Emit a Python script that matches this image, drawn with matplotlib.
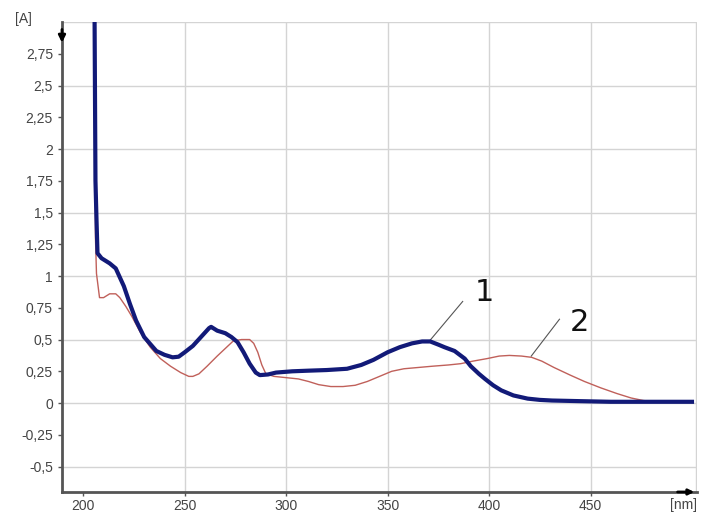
import numpy as np
import matplotlib.pyplot as plt
from matplotlib.ticker import FixedLocator

# Spectrum 1 (thick navy) - wavelength [nm], absorbance [A]
nm1 = [205.5, 206, 206.5, 207, 209, 213, 216, 218, 220, 223, 226, 230, 236, 240, 244, 247,
       250, 254, 258, 262, 263, 266, 270, 273, 276, 279, 282, 285, 287, 291, 295, 303, 311,
       320, 330, 337, 343, 350, 356, 362, 367, 371, 375, 378, 383, 388, 391, 395, 398, 402,
       406, 412, 419, 425, 431, 445, 460, 500]
a1 = [3.2, 1.75, 1.45, 1.18, 1.14, 1.10, 1.06, 0.99, 0.92, 0.78, 0.65, 0.52, 0.41, 0.38, 0.36, 0.365,
      0.40, 0.45, 0.52, 0.59, 0.60, 0.57, 0.55, 0.52, 0.48, 0.40, 0.31, 0.24, 0.22, 0.225, 0.24, 0.25, 0.255,
      0.26, 0.27, 0.30, 0.34, 0.40, 0.44, 0.47, 0.485, 0.485, 0.46, 0.44, 0.41, 0.35, 0.29, 0.23, 0.19, 0.14,
      0.10, 0.06, 0.035, 0.025, 0.02, 0.015, 0.01, 0.01]

# Spectrum 2 (thin red)
nm2 = [205.5, 206, 206.5, 208, 210, 213, 216, 218, 221, 224, 228, 233, 238, 243, 248, 252, 254,
       257, 261, 266, 270, 274, 278, 282, 284, 286, 288, 290, 294, 300, 306, 311, 316, 322, 328,
       334, 340, 346, 352, 358, 365, 372, 380, 386, 392, 399, 405, 410, 416, 421, 426, 432, 440,
       447, 455, 463, 470, 476, 482, 500]
a2 = [3.2, 1.3, 1.02, 0.83, 0.83, 0.86, 0.86, 0.83, 0.76, 0.68, 0.56, 0.44, 0.35, 0.29, 0.24, 0.21, 0.21,
      0.23, 0.29, 0.37, 0.43, 0.49, 0.50, 0.50, 0.47, 0.40, 0.30, 0.23, 0.21, 0.20, 0.19, 0.17, 0.145, 0.13, 0.13,
      0.14, 0.17, 0.21, 0.25, 0.27, 0.28, 0.29, 0.30, 0.31, 0.33, 0.35, 0.37, 0.375, 0.37, 0.36, 0.33, 0.28, 0.22,
      0.17, 0.12, 0.075, 0.04, 0.02, 0.01, 0.01]

xticks = [200, 250, 300, 350, 400, 450]
yticks = [-0.5, -0.25, 0, 0.25, 0.5, 0.75, 1, 1.25, 1.5, 1.75, 2, 2.25, 2.5, 2.75]
ylabels = ["-0,5", "-0,25", "0", "0,25", "0,5", "0,75", "1", "1,25", "1,5", "1,75", "2", "2,25", "2,5", "2,75"]

fig = plt.figure(figsize=(7.06, 5.15), dpi=100)
ax = fig.add_axes([0.0878, 0.0447, 0.8995, 0.9126])

# grid
for g in [250, 300, 350, 400, 450, 502]:
    ax.axvline(g, color='#d4d4d4', lw=1, zorder=0)
for g in [-0.5, 0, 0.5, 1, 1.5, 2, 2.5, 3.0]:
    ax.axhline(g, color='#d4d4d4', lw=1, zorder=0)

ax.plot(nm2, a2, color='#c0605a', lw=1.0, zorder=2)
ax.plot(nm1, a1, color='#121a78', lw=3.0, zorder=3)

ax.set_xlim(189.5, 502.5)
ax.set_ylim(-0.7, 3.0)
ax.xaxis.set_major_locator(FixedLocator(xticks))
ax.set_xticklabels([str(x) for x in xticks])
ax.yaxis.set_major_locator(FixedLocator(yticks))
ax.set_yticklabels(ylabels)

for s in ['top', 'right']:
    ax.spines[s].set_visible(False)
for s in ['left', 'bottom']:
    ax.spines[s].set_color('#555555')
    ax.spines[s].set_linewidth(2)
ax.tick_params(colors='#555555', labelcolor='#444444', labelsize=10, length=3, width=1)
ax.tick_params(axis='x', pad=2)
for lbl in ax.get_xticklabels() + ax.get_yticklabels():
    lbl.set_fontfamily('Liberation Sans')

# annotations
ax.plot([370.7, 387], [0.49, 0.80], color='#555555', lw=0.8)
ax.text(397.8, 0.87, "1", fontsize=22, ha='center', va='center', color='#111111')
ax.plot([420.8, 434.7], [0.37, 0.66], color='#555555', lw=0.8)
ax.text(444.6, 0.635, "2", fontsize=22, ha='center', va='center', color='#111111')

# axis markers
fig.text(0.021, 0.963, "[A]", fontsize=10, color='#444444', family='Liberation Sans', va='center')
fig.text(0.968, 0.02, "[nm]", fontsize=10, color='#444444', family='Liberation Sans', ha='center', va='center')
ax.annotate('', xy=(0, 0.95), xytext=(0, 0.99), xycoords='axes fraction',
            arrowprops=dict(arrowstyle='-|>', color='black', lw=2, mutation_scale=10))
ax.annotate('', xy=(1.0, 0.0), xytext=(0.965, 0.0), xycoords='axes fraction',
            arrowprops=dict(arrowstyle='-|>', color='black', lw=2, mutation_scale=8))

fig.savefig('out.png', dpi=100)
